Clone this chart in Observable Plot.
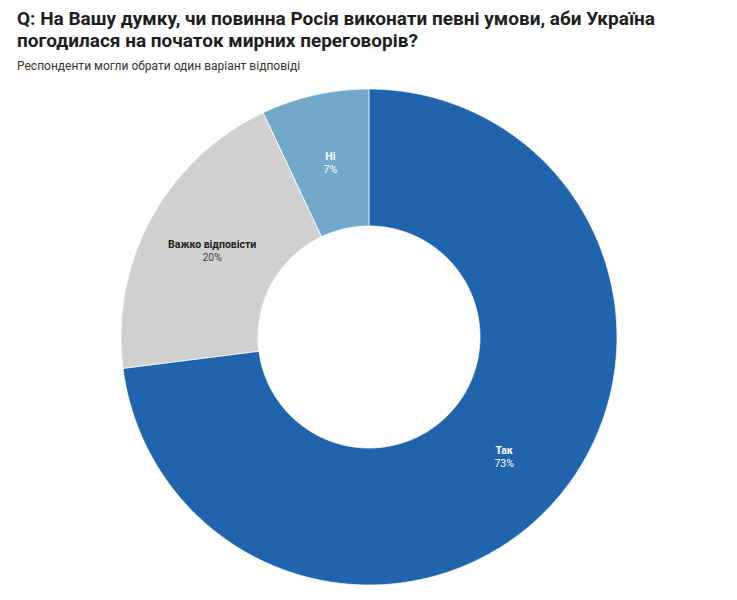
<!DOCTYPE html>
<html>
<head>
<meta charset="utf-8">
<script src="https://cdn.jsdelivr.net/npm/d3@7"></script>
<script src="https://cdn.jsdelivr.net/npm/@observablehq/plot@0.6"></script>
<style>
  body { margin: 0; background: #fff; font-family: Roboto, "Noto Sans", sans-serif; }
  #header { padding: 8px 0 0 17px; height: 71px; box-sizing: border-box; }
  #title { font-size: 19px; font-weight: 700; color: #1e1e1e; line-height: 22px; margin: 0; }
  #subtitle { font-size: 12px; color: #333; margin-top: 7px; }
  #chart svg { display: block; }
</style>
</head>
<body>
<div id="header">
  <div id="title">Q: На Вашу думку, чи повинна Росія виконати певні умови, аби Україна погодилася на початок мирних переговорів?</div>
  <div id="subtitle">Респонденти могли обрати один варіант відповіді</div>
</div>
<div id="chart"></div>
<script>
const categories = ["Так", "Важко відповісти", "Ні"];
const values = [73, 20, 7];
const colors = ["#2064ad", "#d0d0d0", "#72a9cb"];
const labelColors = ["#ffffff", "#222222", "#ffffff"];
const pctColors = ["#ffffff", "#444444", "#ffffff"];

const W = 737, H = 529;
const cx = 369, cy = 337 - 71;
const R = 248, r = 111;

const pie = d3.pie().sort(null).value(d => d)(values);

const ring = [];
pie.forEach((a, i) => {
  const n = Math.max(2, Math.ceil((a.endAngle - a.startAngle) / 0.005));
  for (let k = 0; k <= n; k++) {
    const t = a.startAngle + (a.endAngle - a.startAngle) * k / n;
    ring.push({
      cat: categories[i],
      x1: R * Math.sin(t), y1: -R * Math.cos(t),
      x2: r * Math.sin(t), y2: -r * Math.cos(t)
    });
  }
});

const labels = pie.map((a, i) => {
  const m = (a.startAngle + a.endAngle) / 2;
  const rr = (R + r) / 2;
  return {
    cat: categories[i],
    pct: values[i] + "%",
    x: rr * Math.sin(m),
    y: -rr * Math.cos(m),
    c1: labelColors[i],
    c2: pctColors[i]
  };
});

const chart = Plot.plot({
  width: W,
  height: H,
  margin: 0,
  style: { fontFamily: "Roboto, sans-serif", background: "white" },
  x: { domain: [-cx, W - cx], range: [0, W], axis: null },
  y: { domain: [-cy, H - cy], range: [0, H], axis: null },
  color: { domain: categories, range: colors },
  marks: [
    Plot.area(ring, {
      x1: "x1", y1: "y1", x2: "x2", y2: "y2",
      z: "cat", fill: "cat", stroke: "white", strokeWidth: 0.8,
      curve: "linear"
    }),
    Plot.text(labels, {
      x: "x", y: "y", text: "cat", fill: d => d.c1,
      fontWeight: "bold", fontSize: 10.5, dy: -6
    }),
    Plot.text(labels, {
      x: "x", y: "y", text: "pct", fill: d => d.c2,
      fontSize: 10.5, dy: 7
    })
  ]
});
document.getElementById("chart").appendChild(chart);
</script>
</body>
</html>
